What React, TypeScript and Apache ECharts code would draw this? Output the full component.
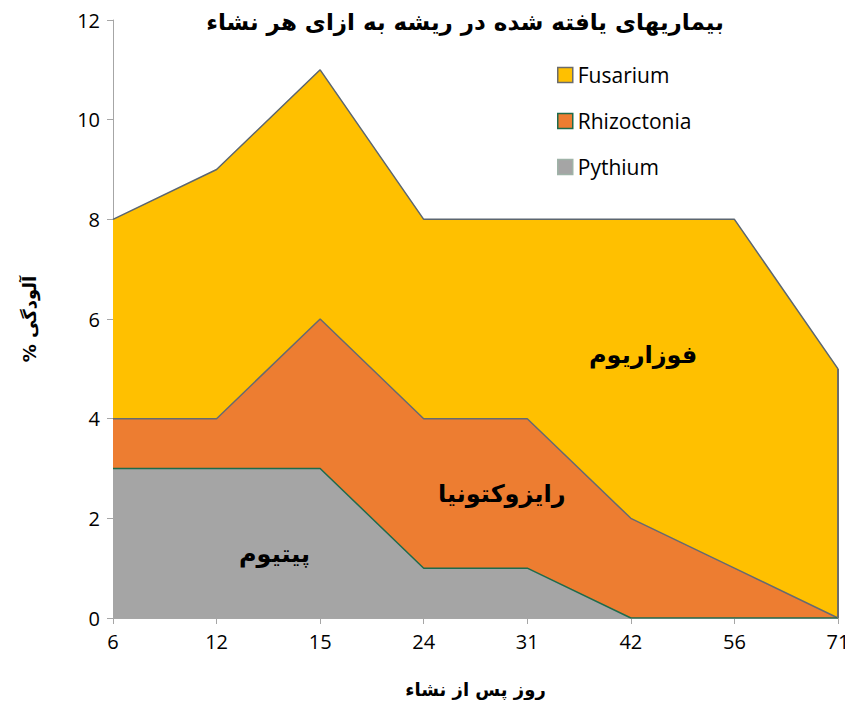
import React, { useEffect, useRef } from "react";
import * as echarts from "echarts";

const categories = ["6", "12", "15", "24", "31", "42", "56", "71"];
const pythium = [3, 3, 3, 1, 1, 0, 0, 0];
const rhizoctonia = [1, 1, 3, 3, 3, 2, 1, 0];
const fusarium = [4, 5, 5, 4, 4, 6, 7, 5];
const yTicks = [0, 2, 4, 6, 8, 10, 12];

const titleText = "بیماریهای یافته شده در ریشه به ازای هر نشاء";
const xName = "روز پس از نشاء";
const yName = "% آلودگی";

const arabicFont = "DejaVu Sans";
const latinFont = "Open Sans";

export default function App() {
  const ref = useRef<HTMLDivElement>(null);
  useEffect(() => {
    if (!ref.current) return;
    const chart = echarts.init(ref.current, null, { renderer: "svg" });
    const fusTop = fusarium.map((v, i) => v + rhizoctonia[i] + pythium[i]);
    chart.setOption({
      animation: false,
      title: {
        text: titleText,
        left: 460,
        textAlign: "center",
        top: 5,
        textStyle: { fontFamily: arabicFont, fontWeight: "bold", fontSize: 23, color: "#000" },
      },
      legend: {
        orient: "vertical",
        left: 552,
        top: 59,
        itemGap: 24,
        itemWidth: 15,
        itemHeight: 15,
        icon: "rect",
        textStyle: { fontFamily: latinFont, fontSize: 21, lineHeight: 22, color: "#000" },
        data: [
          { name: "Fusarium", itemStyle: { color: "#FFC000", borderColor: "#6b6b6b", borderWidth: 1.5 } },
          { name: "Rhizoctonia", itemStyle: { color: "#ED7D31", borderColor: "#1d6b4c", borderWidth: 1.5 } },
          { name: "Pythium", itemStyle: { color: "#A5A5A5", borderColor: "#9fb3a8", borderWidth: 1.5 } },
        ],
      },
      grid: { left: 113, right: 15, top: 20, bottom: 90, containLabel: false },
      xAxis: {
        type: "category",
        data: categories,
        boundaryGap: false,
        name: xName,
        nameLocation: "middle",
        nameGap: 62,
        nameTextStyle: { fontFamily: arabicFont, fontWeight: "bold", fontSize: 18, color: "#000" },
        axisLine: { lineStyle: { color: "#a6a6a6", width: 1 } },
        axisTick: { show: true, length: 6, lineStyle: { color: "#a6a6a6" } },
        axisLabel: { fontFamily: latinFont, fontSize: 20, color: "#000", margin: 13 },
        splitLine: { show: false },
      },
      yAxis: {
        type: "value",
        min: 0,
        max: 12,
        interval: 2,
        name: yName,
        nameLocation: "middle",
        nameGap: 75,
        nameRotate: 90,
        nameTextStyle: { fontFamily: arabicFont, fontWeight: "bold", fontSize: 18, color: "#000" },
        axisLine: { show: true, lineStyle: { color: "#a6a6a6", width: 1 } },
        axisTick: { show: true, length: 6, lineStyle: { color: "#a6a6a6" } },
        axisLabel: {
          fontFamily: latinFont,
          fontSize: 20,
          color: "#000",
          margin: 13,
          formatter: (v: number) => (yTicks.includes(v) ? String(v) : ""),
        },
        splitLine: { show: false },
      },
      series: [
        {
          name: "Pythium",
          type: "line",
          stack: "total",
          data: pythium,
          symbol: "none",
          lineStyle: { color: "#1d6b4c", width: 1.5 },
          itemStyle: { color: "#A5A5A5" },
          areaStyle: { color: "#A5A5A5", opacity: 1 },
          z: 4,
        },
        {
          name: "Rhizoctonia",
          type: "line",
          stack: "total",
          data: rhizoctonia,
          symbol: "none",
          lineStyle: { color: "#666a70", width: 1.5 },
          itemStyle: { color: "#ED7D31" },
          areaStyle: { color: "#ED7D31", opacity: 1 },
          z: 3,
        },
        {
          name: "Fusarium",
          type: "line",
          stack: "total",
          data: fusarium,
          symbol: "none",
          lineStyle: { color: "#5c6670", width: 1.5 },
          itemStyle: { color: "#FFC000" },
          areaStyle: { color: "#FFC000", opacity: 1 },
          z: 2,
          markLine: {
            silent: true,
            symbol: ["none", "none"],
            label: { show: false },
            lineStyle: { color: "#6b6b6b", width: 2, type: "solid" },
            data: [
              [
                { coord: [categories[categories.length - 1], 0] },
                { coord: [categories[categories.length - 1], fusTop[fusTop.length - 1]] },
              ],
            ],
          },
        },
      ],
      graphic: [
        {
          type: "text",
          left: 589,
          top: 343,
          style: { text: "فوزاریوم", font: `bold 24px '${arabicFont}'`, fill: "#000" },
          z: 100,
        },
        {
          type: "text",
          left: 438,
          top: 482,
          style: { text: "رایزوکتونیا", font: `bold 24px '${arabicFont}'`, fill: "#000" },
          z: 100,
        },
        {
          type: "text",
          left: 239,
          top: 542,
          style: { text: "پیتیوم", font: `bold 24px '${arabicFont}'`, fill: "#000" },
          z: 100,
        },
      ],
    });
    return () => chart.dispose();
  }, []);
  return <div ref={ref} style={{ width: 853, height: 708, margin: -8 }} />;
}
